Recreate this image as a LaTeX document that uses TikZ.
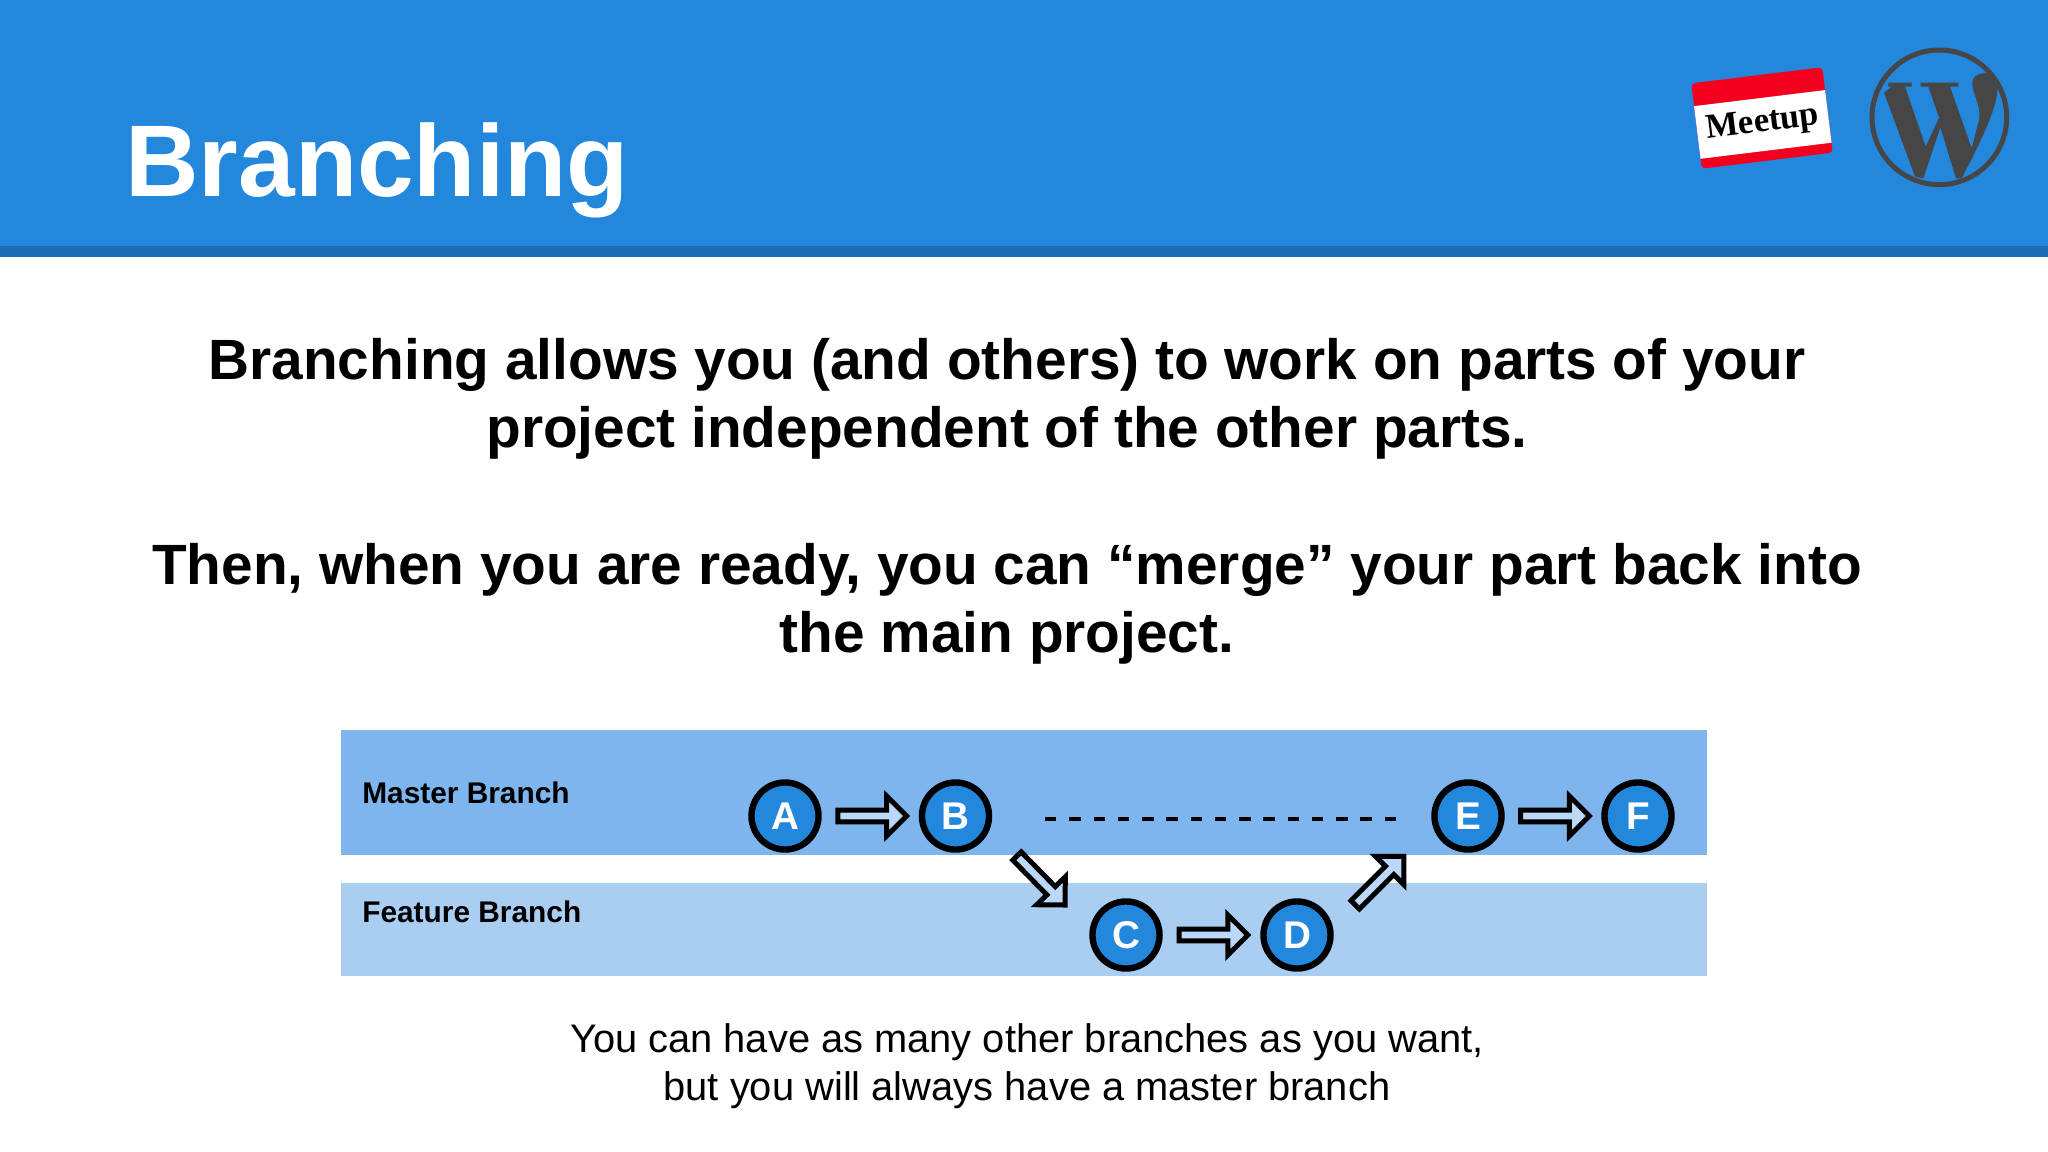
\documentclass[tikz,border=0pt]{standalone}
\usepackage{fontspec}
\setmainfont{Liberation Sans}
\newfontfamily\badgefont{Liberation Serif}
\usetikzlibrary{shapes.arrows}
\definecolor{slideblue}{HTML}{2387DC}
\definecolor{stripblue}{HTML}{1C6DB5}
\definecolor{masterblue}{HTML}{7DB5EC}
\definecolor{featureblue}{HTML}{A9CEF1}
\definecolor{arrowblue}{HTML}{BBD7F9}
\definecolor{wpgrey}{HTML}{464646}
\definecolor{badgered}{HTML}{F2001E}
\newcommand{\pxfont}[2]{\fontsize{#1}{#2}\selectfont}
\tikzset{
	commit/.style={circle, draw=black, line width=4.8pt, fill=slideblue, minimum size=50.3pt, inner sep=0pt, text=white, font=\pxfont{29}{34}\bfseries},
	blockarrow/.style={single arrow, draw=black, line width=3.75pt, fill=arrowblue, sloped, minimum height=51.5pt, minimum width=30pt, single arrow head extend=4.5pt, single arrow head indent=0pt, inner sep=0pt},
	branchlabel/.style={anchor=base west, inner sep=0pt, font=\pxfont{22.4}{28}\bfseries},
	bodytext/.style={align=center, inner sep=0pt, text=black}
}
\begin{document}
\begin{tikzpicture}[x=0.75pt, y=-0.75pt]
	\useasboundingbox (0,0) rectangle (2048,1152);
	\fill[white] (0,0) rectangle (2048,1152);
	% header
	\fill[slideblue] (0,0) rectangle (2048,246);
	\fill[stripblue] (0,246) rectangle (2048,257);
	\node[anchor=base west, inner sep=0pt, text=white, font=\pxfont{76.4}{90}\bfseries] (title) at (125,196) {Branching};
	% badge
	\begin{scope}[shift={(1762,118)}, rotate=7]
	\fill[badgered, rounded corners=3pt] (-66,-43) rectangle (66,43);
	\fill[white] (-66,-20) rectangle (66,33);
	\node[inner sep=0pt, rotate=7, font=\badgefont\pxfont{26}{30}\bfseries] (badge) at (0,6) {Meetup};
	\end{scope}
	% wordpress mark
	\begin{scope}[shift={(1860,40)}, scale=1/3]
	\draw[wpgrey, line width=3.75pt] (238,232) circle (202);
	\fill[wpgrey] (85,128) -- (155,128) -- (155,140) -- (135,140) -- (197,320) -- (237,233) -- (205,140) -- (182,140) -- (182,128) -- (295,128) -- (295,140) -- (270,140) -- (335,325) -- (358,235) .. controls (362,190) and (335,160) .. (337,125) .. controls (340,95) and (405,85) .. (413,130) .. controls (414,190) and (390,250) .. (305,415) -- (288,415) -- (241,262) -- (190,415) -- (165,410) -- (72,158) -- (95,140) -- (85,140) -- cycle;
	\end{scope}
	% body
	\node[bodytext, font=\pxfont{42.6}{51}\bfseries] (intro) at (1007,398.5) {Branching allows you (and others) to work on parts of your\\project independent of the other parts.};
	\node[bodytext, font=\pxfont{42.6}{51}\bfseries] (merge) at (1007,603.5) {Then, when you are ready, you can “merge” your part back into\\the main project.};
	% bands
	\fill[masterblue] (341,730) rectangle (1707,855);
	\fill[featureblue] (341,883) rectangle (1707,976);
	\node[branchlabel] (master) at (362,803) {Master Branch};
	\node[branchlabel] (feature) at (362,922) {Feature Branch};
	% commits
	\node[commit] (A) at (785,816) {A};
	\node[commit] (B) at (955.5,816) {B};
	\node[commit] (E) at (1468,816) {E};
	\node[commit] (F) at (1638,816) {F};
	\node[commit] (C) at (1126,935) {C};
	\node[commit] (D) at (1297,935) {D};
	\coordinate (bcTail) at (1016,855);
	\coordinate (bcTip) at (1067,907);
	\coordinate (deTail) at (1354,906);
	\coordinate (deTip) at (1406,854);
	\coordinate (dashL) at (1045,819);
	\coordinate (dashR) at (1396,819);
	\path (A) -- node[blockarrow, pos=.49] (ab) {} (B);
	\path (C) -- node[blockarrow, pos=.49] (cd) {} (D);
	\path (E) -- node[blockarrow, pos=.49] (ef) {} (F);
	\path (bcTail) -- node[blockarrow, pos=.45] (bc) {} (bcTip);
	\path (deTail) -- node[blockarrow, pos=.45] (de) {} (deTip);
	\draw[line width=3pt, dash pattern=on 8.6pt off 9.6pt] (dashL) -- (dashR);
	% note
	\node[bodytext, font=\pxfont{29.9}{36}] (note) at (1027,1066) {You can have as many other branches as you want,\\but you will always have a master branch};
\end{tikzpicture}
\end{document}
